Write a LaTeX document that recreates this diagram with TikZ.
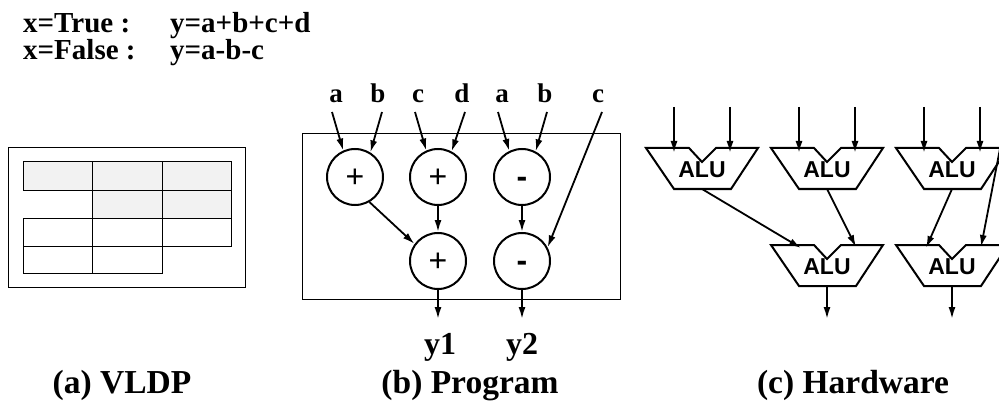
\documentclass[tikz,border=0pt]{standalone}
\usepackage{fontspec}
\setmainfont{Liberation Serif}
\newfontfamily\alufont{Liberation Sans}
\usetikzlibrary{arrows.meta,calc}
\definecolor{cellgray}{HTML}{F2F2F2}
\tikzset{
  arr/.style={draw, line width=1.8pt, -{Latex[length=12pt,width=7pt]}},
  ttl/.style={font=\fontsize{29}{29}\selectfont\bfseries, anchor=base west, inner sep=0pt},
  captxt/.style={font=\fontsize{33.5}{33.5}\selectfont\bfseries, anchor=base, inner sep=0pt},
  inlbl/.style={font=\fontsize{27}{27}\selectfont\bfseries, anchor=base, inner sep=0pt},
  outlbl/.style={font=\fontsize{32}{32}\selectfont\bfseries, anchor=base, inner sep=0pt},
  op/.style={draw, circle, line width=2pt, minimum size=56pt, inner sep=0pt,
    text height=20pt, text depth=0pt, font=\alufont\fontsize{32}{32}\selectfont},
  alutext/.style={font=\alufont\bfseries\fontsize{23}{23}\selectfont, inner sep=0pt},
  cell/.style={draw, line width=1pt},
  pics/alu/.style={code={
    \draw[line width=2pt, line join=miter] (-56,0) -- (-13,0) -- (0,14) -- (14,0) -- (56,0) -- (29,41) -- (-28,41) -- cycle;
    \node[alutext] (-t) at (0,22) {ALU};
    \coordinate (-in1) at (-28,5);
    \coordinate (-in2) at (28,5);
    \coordinate (-out) at (0,41);
    \coordinate (-l) at (-26,3);
    \coordinate (-r) at (29,2);
  }}
}
\begin{document}
\begin{tikzpicture}[x=1pt,y=-1pt]
\useasboundingbox (0,0) rectangle (999,401);
\clip (0,0) rectangle (999,401);

% header text
\node[ttl] (t1) at (23,33) {x=True :};
\node[ttl] (t2) at (170,33) {y=a+b+c+d};
\node[ttl] (t3) at (23,60) {x=False :};
\node[ttl] (t4) at (170,60) {y=a-b-c};

% (a) VLDP
\draw[line width=1pt] (8,148) rectangle (245,287);
\filldraw[cell, fill=cellgray] (23,162) rectangle (92,190);
\filldraw[cell, fill=cellgray] (92,162) rectangle (162,190);
\filldraw[cell, fill=cellgray] (162,162) rectangle (231,190);
\filldraw[cell, fill=cellgray] (92,190) rectangle (162,218);
\filldraw[cell, fill=cellgray] (162,190) rectangle (231,218);
\draw[cell] (23,218) rectangle (92,246);
\draw[cell] (92,218) rectangle (162,246);
\draw[cell] (162,218) rectangle (231,246);
\draw[cell] (23,246) rectangle (92,273);
\draw[cell] (92,246) rectangle (162,273);

% (b) Program
\draw[line width=0.9pt] (302,133) rectangle (620,299);
\node[op] (c1) at (355,177) {+};
\node[op] (c2) at (438,177) {+};
\node[op] (c3) at (522,177) {\bfseries -};
\node[op] (c4) at (438,261) {+};
\node[op] (c5) at (522,261) {\bfseries -};

\node[inlbl] (la1) at (336,103) {a};
\node[inlbl] (lb1) at (378,103) {b};
\node[inlbl] (lc1) at (418,103) {c};
\node[inlbl] (ld1) at (462,103) {d};
\node[inlbl] (la2) at (502,103) {a};
\node[inlbl] (lb2) at (545,103) {b};
\node[inlbl] (lc2) at (598,103) {c};

\coordinate (s1) at (332,112);
\coordinate (s2) at (382,112);
\coordinate (s3) at (415,112);
\coordinate (s4) at (465,112);
\coordinate (s5) at (498,112);
\coordinate (s6) at (547,112);
\coordinate (s7) at (602,112);
\coordinate (o1) at (438,319);
\coordinate (o2) at (522,319);

\draw[arr] (s1) -- (c1.114);
\draw[arr] (s2) -- (c1.58);
\draw[arr] (s3) -- (c2.114);
\draw[arr] (s4) -- (c2.62);
\draw[arr] (s5) -- (c3.116);
\draw[arr] (s6) -- (c3.62);
\draw[arr] (s7) -- (c5.28);
\draw[arr] (c1.300) -- (c4.144);
\draw[arr] (c2.south) -- (c4.north);
\draw[arr] (c3.south) -- (c5.north);
\draw[arr] (c4.south) -- (o1);
\draw[arr] (c5.south) -- (o2);

\node[outlbl] (y1) at (440,354) {y1};
\node[outlbl] (y2) at (522,354) {y2};

% (c) Hardware
\pic (A1) at (702,148) {alu};
\pic (A2) at (827,148) {alu};
\pic (A3) at (952,148) {alu};
\pic (A4) at (827,245) {alu};
\pic (A5) at (952,245) {alu};

\coordinate (h1) at (674,107);
\coordinate (h2) at (730,107);
\coordinate (h3) at (799,107);
\coordinate (h4) at (855,107);
\coordinate (h5) at (924,107);
\coordinate (h6) at (980,107);
\coordinate (hx) at (1004,128);
\coordinate (q1) at (827,319);
\coordinate (q2) at (952,319);

\draw[arr] (h1) -- (A1-in1);
\draw[arr] (h2) -- (A1-in2);
\draw[arr] (h3) -- (A2-in1);
\draw[arr] (h4) -- (A2-in2);
\draw[arr] (h5) -- (A3-in1);
\draw[arr] (h6) -- (A3-in2);
\draw[arr] (A1-out) -- (A4-l);
\draw[arr] (A2-out) -- (A4-r);
\draw[arr] (A3-out) -- (A5-l);
\draw[arr] (hx) -- (A5-r);
\draw[arr] (A4-out) -- (q1);
\draw[arr] (A5-out) -- (q2);

% captions
\node[captxt] (ca) at (122,393) {(a) VLDP};
\node[captxt] (cb) at (470,393) {(b) Program};
\node[captxt] (cc) at (853,393) {(c) Hardware};
\end{tikzpicture}
\end{document}
